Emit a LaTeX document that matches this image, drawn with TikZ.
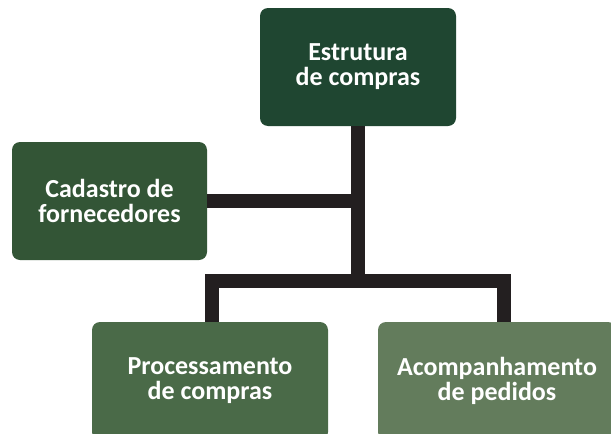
\documentclass[tikz,border=0pt]{standalone}
\usepackage{fontspec}
\setmainfont{Carlito}
\definecolor{cTop}{HTML}{1F4631}
\definecolor{cLeft}{HTML}{335536}
\definecolor{cProc}{HTML}{4A6A48}
\definecolor{cAcomp}{HTML}{637C5C}
\definecolor{cLine}{HTML}{231F20}
\tikzset{
  box/.style={rounded corners=8pt, text=white, align=center, inner sep=0pt,
    font=\fontsize{26}{25}\selectfont\bfseries},
  conn/.style={draw=cLine, line width=14pt, line join=miter, line cap=butt},
}
\begin{document}
\begin{tikzpicture}[x=1pt,y=-1pt]
\useasboundingbox (0,0) rectangle (611,434);
\clip (0,0) rectangle (611,434);
\fill[white] (0,0) rectangle (611,434);
\node[box, fill=cTop, minimum width=196pt, minimum height=118pt] (top) at (358,67) {Estrutura\\de compras};
\node[box, fill=cLeft, minimum width=195pt, minimum height=118pt] (cad) at (109.5,201) {Cadastro de\\fornecedores};
\node[box, fill=cProc, minimum width=236pt, minimum height=118pt] (proc) at (210,381) {Processamento\\de compras};
\node[box, fill=cAcomp, minimum width=238pt, minimum height=118pt] (acomp) at (497,381) {Acompanhamento\\de pedidos};
\coordinate (hb) at (358,281.3);
\coordinate (lv) at (212,281.3);
\coordinate (rv) at (504,281.3);
\draw[conn] (top.south) -- (hb);
\draw[conn] (cad.east) -- (cad.east -| hb);
\draw[conn] (lv |- proc.north) -- (lv) -- (rv) -- (rv |- acomp.north);
\end{tikzpicture}
\end{document}
